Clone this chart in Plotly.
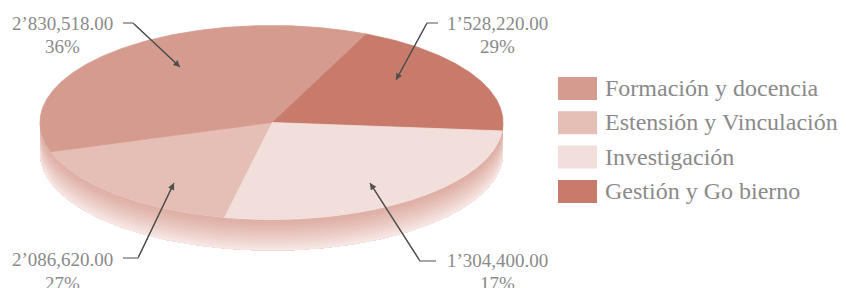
import numpy as np
import plotly.graph_objects as go

# ---------------- data ----------------
categories = ["Formación y docencia", "Estensión y Vinculación", "Investigación", "Gestión y Go bierno"]
values = [2830518, 1304400, 2086620, 1528220]          # slice sizes as drawn
colors = ["#d69b8f", "#e5beb5", "#f2dfdb", "#c97b6b"]
value_labels = ["2’830,518.00", "2’086,620.00", "1’304,400.00", "1’528,220.00"]
pct_labels = ["36%", "27%", "17%", "29%"]

# ---------------- geometry (pixel space) ----------------
W, H = 846, 288
cx, cy, a, b, depth = 271.5, 122.5, 231.5, 97.0, 31.0
start_angle = 66.0                # parametric degrees, slices go clockwise
draw_order = [3, 2, 1, 0]         # Gestión, Investigación, Estensión, Formación

fig = go.Figure()

# ---- side wall (front half) with vertical gradient following the rim ----
N = 16
top_rgb = np.array([223, 176, 166])
bot_rgb = np.array([247, 231, 228])
th = np.radians(np.linspace(180, 360, 240))
ex = cx + a * np.cos(th)
ey = cy - b * np.sin(th)
for j in range(N):
    d0 = depth * j / N
    t = j / (N - 1)
    c = (top_rgb + (bot_rgb - top_rgb) * t ** 1.2).astype(int)
    xs = np.concatenate([ex, ex[::-1]])
    ys = np.concatenate([ey + d0, (ey + depth)[::-1]])
    fig.add_trace(go.Scatter(x=xs, y=ys, mode="lines", fill="toself",
                             fillcolor=f"rgb({c[0]},{c[1]},{c[2]})",
                             line=dict(width=0), hoverinfo="skip", showlegend=False))

# ---- top surface slices ----
total = float(sum(values))
cur = start_angle
for i in draw_order:
    sweep = 360.0 * values[i] / total
    hi, lo = cur, cur - sweep
    cur = lo
    ang = np.radians(np.linspace(hi, lo, max(8, int(sweep * 2))))
    xs = np.concatenate([[cx], cx + a * np.cos(ang), [cx]])
    ys = np.concatenate([[cy], cy - b * np.sin(ang), [cy]])
    fig.add_trace(go.Scatter(x=xs, y=ys, mode="lines", fill="toself",
                             fillcolor=colors[i], line=dict(color=colors[i], width=0.8),
                             hoverinfo="skip", showlegend=False))

# ---- callout labels ----
label_font = dict(family="Liberation Serif, Times New Roman, serif", size=19, color="#8a8a8a")
# (text x, first line y, second line y, polyline points) per category
callouts = {
    0: (62, 23, 46, [(123, 23), (133, 23), (180, 67)]),
    3: (497, 23, 46, [(438, 23), (427, 23), (396, 80)]),
    1: (62, 259, 283, [(123, 258), (138, 258), (174, 183)]),
    2: (497, 260, 283, [(436, 261), (420, 261), (370, 183)]),
}
annotations = []
for i, (tx, y1, y2, pts) in callouts.items():
    annotations.append(dict(x=tx, y=y1, xref="x", yref="y", text=value_labels[i],
                            showarrow=False, xanchor="center", yanchor="middle", font=label_font))
    annotations.append(dict(x=tx, y=y2, xref="x", yref="y", text=pct_labels[i],
                            showarrow=False, xanchor="center", yanchor="middle", font=label_font))
    px = [p[0] for p in pts]
    py = [p[1] for p in pts]
    fig.add_trace(go.Scatter(x=px, y=py, mode="lines", line=dict(color="#505050", width=1.2),
                             hoverinfo="skip", showlegend=False))
    annotations.append(dict(x=pts[-1][0], y=pts[-1][1], xref="x", yref="y",
                            ax=pts[-2][0], ay=pts[-2][1], axref="x", ayref="y",
                            text="", showarrow=True, arrowhead=2, arrowsize=1.1,
                            arrowwidth=1.2, arrowcolor="#505050", standoff=0, startstandoff=0))

# ---- legend (manual) ----
shapes = []
leg_font = dict(family="Liberation Serif, Times New Roman, serif", size=24, color="#8a8a8a")
for k, cat in enumerate(categories):
    y0 = 77 + 34.3 * k
    shapes.append(dict(type="rect", xref="x", yref="y", x0=558, x1=597, y0=y0, y1=y0 + 23,
                       fillcolor=colors[k], line=dict(width=0)))
    annotations.append(dict(x=603, y=y0 + 11, xref="x", yref="y", text=cat, showarrow=False,
                            xanchor="left", yanchor="middle", font=leg_font))

fig.update_layout(
    width=W, height=H, margin=dict(l=0, r=0, t=0, b=0),
    paper_bgcolor="white", plot_bgcolor="white",
    xaxis=dict(range=[0, W], visible=False, fixedrange=True),
    yaxis=dict(range=[H, 0], visible=False, fixedrange=True),
    shapes=shapes, annotations=annotations, showlegend=False,
)
fig.write_html("out.html", config={"displayModeBar": False},
               post_script="document.body.style.margin='0';document.body.style.overflow='hidden';")
